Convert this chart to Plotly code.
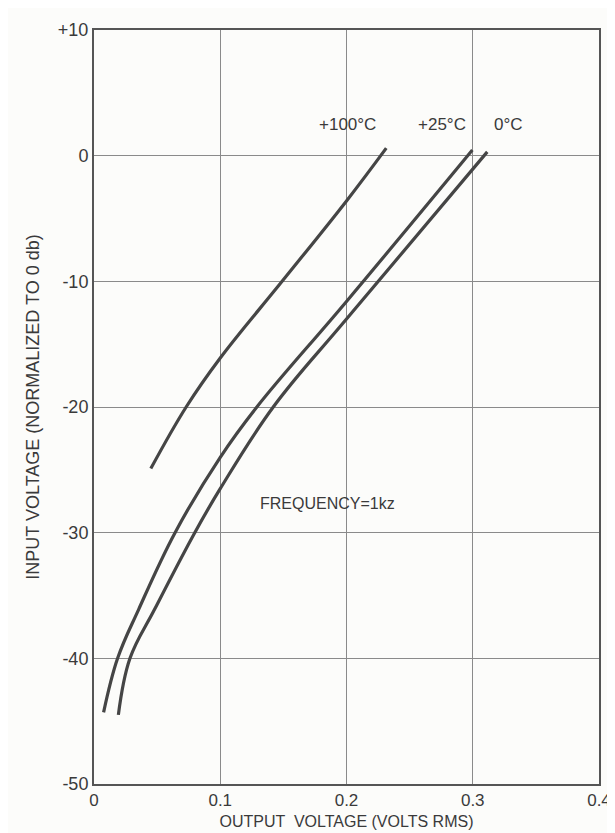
import plotly.graph_objects as go

# Data (output voltage V rms, input level dB)
x_100 = [0.045, 0.073, 0.100, 0.149, 0.200, 0.2315]
y_100 = [-24.9, -20.0, -16.1, -10.0, -3.6, 0.6]

x_25 = [0.0076, 0.0187, 0.0354, 0.0642, 0.100, 0.129, 0.200, 0.2997]
y_25 = [-44.3, -40.0, -36.1, -30.0, -24.0, -20.0, -11.6, 0.45]

x_0 = [0.0193, 0.0285, 0.048, 0.0798, 0.100, 0.142, 0.200, 0.3115]
y_0 = [-44.5, -40.0, -36.1, -30.0, -26.5, -20.0, -13.0, 0.3]

x_ticks = [0, 0.1, 0.2, 0.3, 0.4]
x_ticktext = ["0", "0.1", "0.2", "0.3", "0.4"]
y_ticks = [10, 0, -10, -20, -30, -40, -50]
y_ticktext = ["+10", "0", "-10", "-20", "-30", "-40", "-50"]

curve_labels = ["+100°C", "+25°C", "0°C"]
label_x = [0.2005, 0.276, 0.328]
label_y = [1.6, 1.6, 1.6]

FONT = "Liberation Sans"
INK = "#3a3a3a"
LINE = "#454545"

fig = go.Figure()
for xs, ys, name in [(x_100, y_100, curve_labels[0]),
                     (x_25, y_25, curve_labels[1]),
                     (x_0, y_0, curve_labels[2])]:
    fig.add_trace(go.Scatter(x=xs, y=ys, mode="lines", name=name,
                             line=dict(color=LINE, width=3.2, shape="spline", smoothing=1.1),
                             showlegend=False, hoverinfo="skip"))

for t, lx, ly in zip(curve_labels, label_x, label_y):
    fig.add_annotation(x=lx, y=ly, text=t, showarrow=False, xanchor="center",
                       yanchor="bottom", font=dict(family=FONT, size=17, color=INK))

fig.add_annotation(x=0.1847, y=-27.65, text="FREQUENCY=1kz", showarrow=False,
                   xanchor="center", yanchor="middle",
                   font=dict(family=FONT, size=16, color=INK))

fig.update_layout(
    width=615, height=833,
    margin=dict(l=86, r=16, t=16, b=57),
    paper_bgcolor="#fcfcfa", plot_bgcolor="#fcfcfa",
    font=dict(family=FONT, size=17, color=INK),
)
fig.update_xaxes(range=[0, 0.4], tickvals=x_ticks, ticktext=x_ticktext,
                 showgrid=True, gridcolor="#8a8a8a", gridwidth=1,
                 showline=True, mirror=True, linecolor="#555555", linewidth=2,
                 zeroline=False, ticks="", ticklen=0,
                 tickfont=dict(family=FONT, size=17, color=INK),
                 title=dict(text="OUTPUT  VOLTAGE (VOLTS RMS)", standoff=6,
                            font=dict(family=FONT, size=16, color=INK)))
fig.update_yaxes(range=[-50, 10], tickvals=y_ticks, ticktext=y_ticktext,
                 showgrid=True, gridcolor="#8a8a8a", gridwidth=1,
                 showline=True, mirror=True, linecolor="#555555", linewidth=2,
                 zeroline=False, ticks="", ticklen=0,
                 tickfont=dict(family=FONT, size=18, color=INK),
                 title=dict(text="INPUT VOLTAGE (NORMALIZED TO 0 db)", standoff=14,
                            font=dict(family=FONT, size=18, color=INK)))

fig.write_html("out.html")
